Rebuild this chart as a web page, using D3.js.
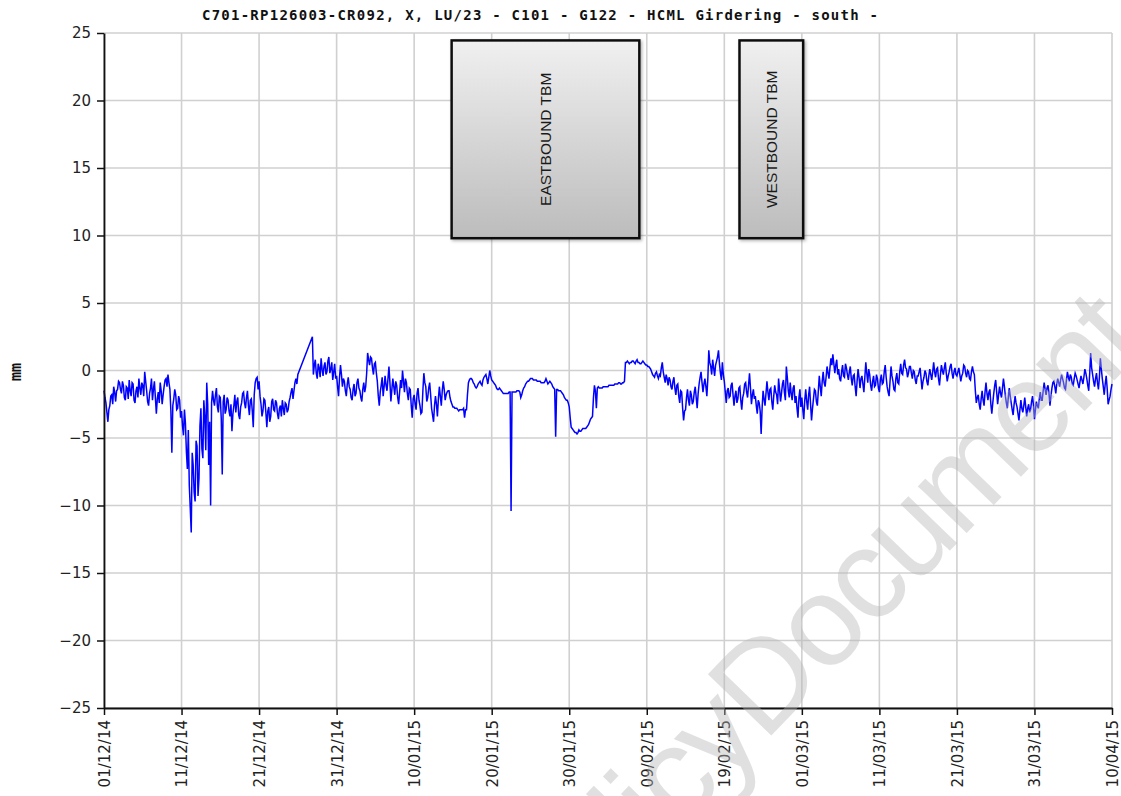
<!DOCTYPE html>
<html>
<head>
<meta charset="utf-8">
<script src="https://cdn.jsdelivr.net/npm/d3@7"></script>
<style>
  body { margin: 0; background: #fff; }
  svg { display: block; }
</style>
</head>
<body>
<svg id="chart" width="1121" height="796"></svg>
<script>
// ---- chart text ----
const titleText = "C701-RP126003-CR092, X, LU/23 - C101 - G122 - HCML Girdering - south -";
const yAxisLabel = "mm";
const watermarkLead = "Policy ";
const watermarkMain = "Document";

// ---- axis ticks ----
const xTickLabels = ["01/12/14", "11/12/14", "21/12/14", "31/12/14", "10/01/15", "20/01/15", "30/01/15",
                     "09/02/15", "19/02/15", "01/03/15", "11/03/15", "21/03/15", "31/03/15", "10/04/15"];
const yTickValues = [-25, -20, -15, -10, -5, 0, 5, 10, 15, 20, 25];
const xDomain = ["2014-12-01", "2015-04-10"];
const yDomain = [-25, 25];

// ---- readings (mm), one every 3 hours from the first day of each month (8 per row = 1 day);
//      null = no reading ----
const readingStepHours = 3;
const monthStarts = ["2014-12-01", "2015-01-01", "2015-02-01", "2015-03-01", "2015-04-01"];

const readingsDec = [
  -1.5, -2.0, -2.4, -3.1, -3.8, -2.9, -2.6, -1.9,
  -1.8, -2.5, -1.2, -1.6, -2.3, -1.5, -1.4, -0.8,
  -0.9, -1.4, -1.7, -0.8, -1.1, -2.0, -2.2, -1.2,
  -1.3, -2.1, -0.7, -1.5, -1.9, -0.9, -1.0, -2.2,
  -2.4, -1.5, -1.2, -2.0, -0.6, -1.3, -1.8, -0.9,
  -1.1, -1.9, -0.1, -0.8, -1.5, -2.3, -2.6, -1.7,
  -1.3, -0.6, -2.2, -1.4, -0.8, -2.0, -3.2, -2.1,
  -1.6, -2.4, -0.9, -1.5, -2.5, -1.8, -1.2, -0.7,
  -0.6, -1.2, -0.3, -0.9, -1.4, -3.0, -6.1, -2.6,
  -2.1, -1.4, -1.8, -2.9, -2.8, -1.9, -2.2, -3.5,
  -3.0, -4.1, -4.8, -2.9, -3.9, -6.0, -7.3, -4.4,
  -8.5, -10.2, -12.0, -6.1, -7.0, -9.0, -9.7, -5.2,
  -5.6, -9.3, -8.0, -4.1, -2.8, -5.8, -6.5, -2.2,
  -3.4, -5.9, -0.9, -2.5, -7.0, -3.8, -10.0, -2.4,
  -1.5, -2.2, -2.6, -1.8, -1.3, -2.7, -3.1, -1.9,
  -2.0, -3.6, -7.7, -2.3, -1.8, -3.2, -2.9, -2.0,
  -2.2, -3.0, -3.4, -2.5, -4.5, -3.2, -2.6, -1.8,
  -3.1, -2.3, -2.0, -3.3, -3.6, -2.7, -2.4, -1.7,
  -1.6, -2.4, -2.8, -2.0, -1.5, -2.6, -3.3, -2.2,
  -2.1, -3.0, -4.2, -1.8, -0.9, -0.6, -0.5, -1.4,
  -0.8, -1.9, -2.5, -3.4, -3.0, -2.1, -2.2, -3.1,
  -4.2, -3.0, -2.7, -3.8, -3.4, -2.3, -2.1, -2.9,
  -3.0, -2.2, -2.4, -3.2, -3.6, -2.8, -2.6, -3.4,
  -2.2, -2.8, -3.3, -2.4, -2.5, -3.1, -2.9, -2.3,
  -2.0, -1.6, -1.3, -2.1, -1.5, -0.9, -0.6, -1.0,
  -0.3, null, null, null, null, null, null, null,
  null, null, null, null, null, null, null, 2.5,
  -0.3, 0.4, 0.8, -0.2, -0.6, 0.5, 0.2, -0.5,
   0.9, 0.1, -0.4, 0.3, 0.6, -0.3, -0.1, 0.7,
   1.0, -0.2, 0.1, 0.6, -0.7, -0.1, 0.5, -0.6,
  -0.4, -1.2, -1.9, -0.5, 0.4, -0.3, -1.2, -0.6
];
const readingsJan = [
  -0.8, -1.5, -1.9, -1.0, -0.5, -1.2, -1.4, -2.0,
  -2.2, -1.4, -1.0, -1.9, -1.7, -0.9, -0.6, -1.3,
  -1.5, -2.0, -2.3, -1.4, -0.9, -1.6, -1.2, -0.2,
   1.3, 0.8, 0.4, 1.0, 0.9, 0.2, -0.3, 0.5,
   0.6, -0.2, -0.8, -1.9, -2.6, -1.6, -1.1, -0.5,
  -1.9, -1.2, -0.4, -1.1, -1.5, -0.6, 0.3, -0.9,
  -2.3, -1.4, -0.6, -1.2, -1.8, -0.8, -1.1, -2.0,
  -2.5, -1.6, -0.7, -1.3, 0.0, -0.8, -1.6, -0.6,
  -0.9, -1.7, -2.2, -1.3, -1.4, -2.6, -3.5, -2.1,
  -1.8, -2.5, -2.9, -1.7, -1.3, -2.2, -2.6, -3.2,
  -3.1, -1.5, -0.2, -0.9, -1.2, -2.3, -2.0, -1.3,
  -0.9, -1.8, -2.8, -3.3, -3.8, -2.6, -1.9, -2.5,
  -3.4, -2.1, -1.2, -1.9, -2.6, -1.5, -0.8, -1.4,
  -2.2, -1.8, -1.6, -1.5, -1.5, -2.0, -2.3, -2.5,
  -2.7, -2.7, -2.8, -2.8, -2.8, -2.9, -3.0, -2.9,
  -2.9, -2.9, -2.9, -2.8, -3.5, -2.9, -2.9, -1.8,
  -0.9, -0.7, -0.6, -0.6, -0.7, -0.9, -1.0, -1.2,
  -1.3, -1.2, -1.0, -0.9, -0.8, -1.0, -1.1, -0.7,
  -0.5, -0.4, -0.3, -0.6, -1.0, -0.5, 0.0, -0.4,
  -0.7, -0.8, -0.9, -1.0, -1.1, -1.3, -1.4, -1.4,
  -1.3, -1.4, -1.5, -1.6, -1.7, -1.7, -1.7, -1.7,
  -1.7, -1.7, -1.6, -1.6, -10.4, -1.6, -1.6, -1.6,
  -1.6, -1.6, -1.5, -1.5, -1.5, -1.6, -2.0, -1.8,
  -1.5, -1.3, -1.2, -1.0, -0.9, -0.8, -0.8, -0.7,
  -0.6, -0.6, -0.6, -0.7, -0.7, -0.7, -0.7, -0.8,
  -0.8, -0.8, -0.8, -0.9, -0.9, -0.9, -0.9, -0.8,
  -0.6, -0.8, -1.0, -0.9, -0.8, -0.9, -1.0, -1.2,
  -1.3, -1.4, -4.9, -1.4, -1.4, -1.5, -1.5, -1.5,
  -1.6, -1.7, -1.8, -2.0, -2.1, -2.2, -2.2, -2.4,
  -2.7, -3.5, -4.2, -4.3, -4.4, -4.5, -4.6, -4.6,
  -4.7, -4.6, -4.4, -4.5, -4.5, -4.4, -4.3, -4.3
];
const readingsFeb = [
  -4.3, -4.3, -4.2, -4.1, -4.0, -3.8, -3.6, -3.5,
  -3.4, -2.0, -1.1, -1.5, -2.8, -1.3, -1.2, -1.3,
  -1.3, -1.3, -1.3, -1.2, -1.2, -1.2, -1.2, -1.2,
  -1.2, -1.1, -1.1, -1.1, -1.1, -1.1, -1.1, -1.0,
  -1.0, -1.0, -1.0, -0.9, -0.9, -1.0, -1.0, -0.9,
  -0.9, -0.8, 0.6, 0.6, 0.7, 0.6, 0.5, 0.6,
   0.6, 0.7, 0.7, 0.6, 0.5, 0.7, 0.8, 0.6,
   0.6, 0.5, 0.5, 0.6, 0.7, 0.6, 0.5, 0.4,
   0.4, 0.3, 0.3, 0.2, 0.1, -0.1, -0.3, -0.4,
  -0.5, -0.2, -0.1, -0.4, -0.6, -0.3, -0.4, 0.2,
   0.6, -0.1, -0.5, -0.9, -0.3, -0.6, -1.1, -0.5,
  -0.7, -1.2, -1.4, -0.8, -0.5, -1.3, -1.8, -1.1,
  -1.0, -1.9, -2.4, -1.5, -1.6, -2.8, -3.7, -3.0,
  -2.9, -2.0, -1.4, -2.2, -2.6, -1.5, -1.8, -2.5,
  -2.3, -1.6, -1.2, -2.0, -2.8, -1.7, -1.0, -0.5,
  -0.1, -0.9, -1.6, -1.0, -0.6, -1.2, -1.9, -0.6,
   1.5, 0.6, 0.3, -0.3, 0.8, 0.2, -0.4, 0.4,
   0.7, 1.0, 1.5, 0.5, -0.2, -0.7, 0.6, -0.3,
  -0.8, -1.6, -2.4, -1.5, -1.3, -2.0, -1.9, -1.1,
  -0.9, -1.8, -2.6, -1.9, -1.5, -2.4, -2.1, -1.3,
  -1.2, -2.2, -2.9, -2.0, -1.7, -1.0, -0.9, -1.6,
  -2.0, -1.1, -0.2, -1.3, -2.5, -1.8, -1.4, -2.1,
  -1.9, -2.6, -3.2, -2.2, -2.4, -3.0, -4.7, -2.8,
  -1.5, -2.1, -2.6, -1.7, -0.8, -1.6, -2.2, -1.4,
  -1.3, -2.3, -2.9, -1.9, -1.1, -1.6, -1.8, -2.5,
  -0.6, -1.4, -2.3, -1.7, -1.0, -0.7, -1.6, -2.2,
   0.3, -0.5, -1.5, -2.0, -0.9, -1.7, -2.2, -1.3,
  -1.1, -2.4, -1.9, -2.8, -3.5, -2.0, -1.4, -2.7
];
const readingsMar = [
  -2.0, -2.9, -3.6, -2.2, -1.4, -2.3, -2.9, -1.8,
  -1.2, -2.5, -3.7, -2.8, -2.1, -1.4, -1.5, -2.3,
  -2.6, -1.5, -0.4, -1.2, -1.9, -0.8, -0.1, -0.9,
  -1.2, -0.5, 0.3, -0.2, -0.6, 0.2, 0.9, 0.4,
   1.2, 0.5, -0.2, 0.4, 0.8, -0.3, 0.1, -0.6,
  -0.8, -0.1, 0.4, -0.4, -0.5, 0.5, 0.2, -0.3,
  -0.7, -0.1, 0.3, -0.6, -1.1, -0.4, -0.3, -1.2,
  -1.9, -0.8, 0.1, -0.5, -1.3, -0.6, -0.4, -1.0,
  -1.6, -0.5, 0.6, -0.2, -0.9, 0.1, -0.3, -1.1,
  -1.5, -0.8, -0.4, -1.2, -1.1, -0.3, -0.6, -1.3,
  -1.6, -0.7, -0.3, -1.0, -0.9, -0.1, 0.4, -0.5,
  -1.2, -1.6, -1.9, -0.8, 0.3, -0.4, -0.8, -1.4,
  -1.5, -0.6, -0.2, -0.9, -1.0, -0.1, 0.5, -0.2,
  -0.3, 0.4, 0.8, 0.2, 0.1, -0.5, -0.2, 0.3,
   0.3, -0.2, -0.6, 0.0, -0.1, -0.7, -1.0, -0.4,
  -0.4, -0.1, 0.2, -0.6, -1.4, -0.8, -0.5, 0.0,
  -0.2, -0.8, -1.1, -0.4, 0.1, -0.3, -0.7, -0.1,
   0.6, -0.1, -0.5, 0.1, 0.2, -0.6, -1.1, -0.3,
   0.4, 0.0, -0.3, 0.2, 0.6, -0.2, -0.8, -0.4,
  -0.1, 0.3, 0.5, -0.2, -0.6, -0.1, 0.2, -0.3,
  -0.4, -0.1, 0.2, -0.3, -0.8, -0.4, -0.2, 0.4,
   0.3, -0.2, -0.5, 0.0, -0.1, -0.6, -0.7, -0.1,
   0.3, -0.1, -0.3, -1.5, -2.4, -2.0, -1.8, -2.5,
  -2.9, -2.1, -1.5, -2.2, -2.6, -1.6, -0.9, -1.7,
  -2.2, -1.6, -1.4, -2.5, -3.2, -2.4, -1.7, -1.1,
  -0.7, -1.6, -2.5, -1.8, -1.2, -1.7, -2.0, -1.3,
  -0.6, -1.2, -1.9, -2.4, -2.8, -2.0, -1.3, -1.9,
  -2.4, -2.9, -3.3, -2.5, -1.9, -2.4, -2.7, -3.2,
  -3.7, -2.9, -2.2, -2.8, -3.1, -2.6, -2.0, -2.7,
  -3.4, -2.8, -2.5, -3.1, -2.9, -2.3, -1.9, -2.6,
  -3.6, -2.9, -2.3, -2.6, -2.8, -2.1, -1.6, -2.2
];
const readingsApr = [
  -2.2, -1.5, -0.9, -1.4, -1.8, -1.3, -1.1, -1.7,
  -2.6, -1.9, -1.3, -0.9, -0.8, -1.2, -1.7, -1.0,
  -0.6, -0.9, -1.2, -0.7, -0.3, -0.6, -0.9, -1.3,
  -1.4, -0.7, -0.1, -0.5, -0.8, -0.3, -0.5, -1.0,
  -1.1, -0.6, -0.2, -0.4, -0.7, -1.0, -1.3, -0.8,
  -0.4, -0.7, -1.0, -0.5, 0.1, -0.2, -0.6, -1.1,
  -1.5, -0.2, 1.3, 0.2, -0.3, -0.8, -1.2, -0.6,
  -0.2, -0.9, -1.4, -0.5, 0.9, 0.1, -0.6, -1.2,
  -1.8, -1.0, -0.4, -1.3, -2.5, -2.2, -1.9, -1.4,
  -1.0
];

// ---- TBM passage annotations ----
const tbmNames = ["EASTBOUND TBM", "WESTBOUND TBM"];
const tbmFrom = ["2015-01-14T20:00", "2015-02-20T23:00"];
const tbmTo = ["2015-02-08T01:00", "2015-03-01T04:00"];
const tbmLow = [9.8, 9.8];
const tbmHigh = [24.45, 24.45];

// ---- layout ----
const width = 1121, height = 796;
const margin = { top: 33, right: 9, bottom: 88, left: 104 };
const innerRight = width - margin.right;
const innerBottom = height - margin.bottom;

const svg = d3.select("#chart");
const parseDay = d3.utcParse("%Y-%m-%d");
const parseStamp = d3.utcParse("%Y-%m-%dT%H:%M");
const parseTick = d3.utcParse("%d/%m/%y");
const formatTick = d3.utcFormat("%d/%m/%y");

const x = d3.scaleUtc()
  .domain(xDomain.map(parseDay))
  .range([margin.left, innerRight]);
const y = d3.scaleLinear()
  .domain(yDomain)
  .range([innerBottom, margin.top]);

// assemble the time series
const monthly = [readingsDec, readingsJan, readingsFeb, readingsMar, readingsApr];
const series = [];
monthly.forEach((vals, m) => {
  const start = parseDay(monthStarts[m]);
  vals.forEach((v, i) => {
    if (v !== null) series.push({ t: d3.utcHour.offset(start, i * readingStepHours), v });
  });
});

const xTickDates = xTickLabels.map(parseTick);

// ---- defs: box gradient + shadow ----
const defs = svg.append("defs");
const grad = defs.append("linearGradient")
  .attr("id", "boxFill").attr("x1", 0).attr("y1", 0).attr("x2", 0).attr("y2", 1);
grad.append("stop").attr("offset", "0%").attr("stop-color", "#f0f0f0");
grad.append("stop").attr("offset", "100%").attr("stop-color", "#bcbcbc");
const shadow = defs.append("filter").attr("id", "boxShadow")
  .attr("x", "-10%").attr("y", "-10%").attr("width", "130%").attr("height", "130%");
shadow.append("feDropShadow").attr("dx", 1.5).attr("dy", 1.5).attr("stdDeviation", 1.5)
  .attr("flood-color", "#000").attr("flood-opacity", 0.3);

// ---- grid ----
const grid = svg.append("g").attr("class", "grid")
  .attr("stroke", "#d0d0d0").attr("stroke-width", 1.6);
grid.selectAll("line.v").data(xTickDates).join("line")
  .attr("class", "v")
  .attr("x1", d => x(d)).attr("x2", d => x(d))
  .attr("y1", margin.top).attr("y2", innerBottom);
grid.selectAll("line.h").data(yTickValues).join("line")
  .attr("class", "h")
  .attr("x1", margin.left).attr("x2", innerRight)
  .attr("y1", d => y(d)).attr("y2", d => y(d));

// ---- TBM boxes ----
const boxes = svg.append("g").attr("class", "tbm");
const boxData = tbmNames.map((name, i) => ({
  name, from: parseStamp(tbmFrom[i]), to: parseStamp(tbmTo[i]), lo: tbmLow[i], hi: tbmHigh[i]
}));
const bx = boxes.selectAll("g").data(boxData).join("g");
bx.append("rect")
  .attr("x", d => x(d.from)).attr("y", d => y(d.hi))
  .attr("width", d => x(d.to) - x(d.from))
  .attr("height", d => y(d.lo) - y(d.hi))
  .attr("fill", "url(#boxFill)")
  .attr("stroke", "#111").attr("stroke-width", 2.5)
  .attr("filter", "url(#boxShadow)");
bx.append("text")
  .attr("transform", d => `translate(${(x(d.from) + x(d.to)) / 2},${(y(d.lo) + y(d.hi)) / 2}) rotate(-90)`)
  .attr("text-anchor", "middle").attr("dy", "0.35em")
  .attr("font-family", "'Liberation Sans', Arial, sans-serif")
  .attr("font-size", 15.5).attr("fill", "#1a1a1a")
  .text(d => d.name);

// ---- data line ----
const line = d3.line().x(d => x(d.t)).y(d => y(d.v));
svg.append("path")
  .datum(series)
  .attr("d", line)
  .attr("fill", "none")
  .attr("stroke", "#0000ff")
  .attr("stroke-width", 1.5)
  .attr("stroke-linejoin", "miter");

// ---- axes ----
const tickFont = "'DejaVu Sans', Verdana, sans-serif";
const yAxis = svg.append("g")
  .attr("transform", `translate(${margin.left},0)`)
  .call(d3.axisLeft(y).tickValues(yTickValues).tickSize(7).tickSizeOuter(0).tickPadding(6));
const xAxis = svg.append("g")
  .attr("transform", `translate(0,${innerBottom})`)
  .call(d3.axisBottom(x).tickValues(xTickDates).tickFormat(formatTick).tickSize(7).tickSizeOuter(0));

[yAxis, xAxis].forEach(g => {
  g.select(".domain").attr("stroke", "#111").attr("stroke-width", 1.8);
  g.selectAll(".tick line").attr("stroke", "#111").attr("stroke-width", 1.5);
  g.selectAll(".tick text").attr("font-family", tickFont).attr("font-size", 15).attr("fill", "#222");
});
xAxis.selectAll(".tick text")
  .attr("transform", "rotate(-90)")
  .attr("text-anchor", "end")
  .attr("x", -12).attr("y", 0).attr("dy", "0.36em");

// ---- title and axis label ----
svg.append("text")
  .attr("x", 540).attr("y", 20)
  .attr("text-anchor", "middle")
  .attr("font-family", "'DejaVu Sans Mono', monospace")
  .attr("font-weight", "bold").attr("font-size", 14)
  .attr("textLength", 676).attr("lengthAdjust", "spacing")
  .attr("fill", "#111")
  .text(titleText);

svg.append("text")
  .attr("transform", "translate(16,372) rotate(-90)")
  .attr("text-anchor", "middle").attr("dy", "0.35em")
  .attr("font-family", "'DejaVu Sans Mono', monospace")
  .attr("font-weight", "bold").attr("font-size", 15)
  .attr("fill", "#111")
  .text(yAxisLabel);

// ---- watermark ----
const wm = svg.append("g")
  .attr("transform", "translate(764,743) rotate(-46)")
  .attr("font-family", "'Liberation Sans', Arial, sans-serif")
  .attr("font-size", 128)
  .attr("letter-spacing", -4)
  .attr("fill", "#b4b4b4").attr("fill-opacity", 0.42)
  .attr("pointer-events", "none");
wm.append("text").attr("text-anchor", "end").text(watermarkLead);
wm.append("text").attr("text-anchor", "start").text(watermarkMain);
</script>
</body>
</html>
